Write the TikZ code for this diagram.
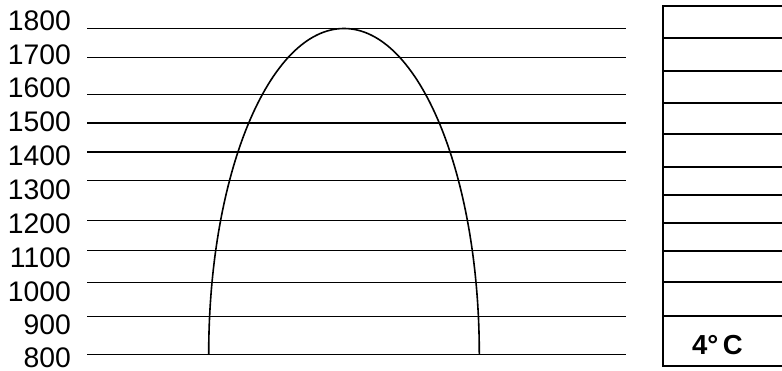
\documentclass[tikz,border=0pt]{standalone}
\usepackage{fontspec}
\setmainfont{Liberation Sans}
\begin{document}
\begin{tikzpicture}[x=1pt,y=-1pt,
  gridline/.style={line width=1.5pt},
  boxline/.style={line width=1.7pt},
  curveline/.style={line width=1.6pt},
  lbl/.style={anchor=east,inner sep=0pt,font=\fontsize{28.3}{30}\selectfont}]
\useasboundingbox (0,0) rectangle (782,371);
\clip (0,0) rectangle (782,371);
% horizontal lines
\foreach \y in {28.7,57.3,94.3,123,152,180.7,220.7,250.7,282.3,316.7,354.3}
  \draw[gridline] (87,\y) -- (626,\y);
% labels
\foreach \t/\y [count=\i] in {1800/21,1700/54.5,1600/88,1500/121.7,1400/156.2,1300/190,1200/223.5,1100/258,1000/291.7,900/325,800/357.5}
  \node[lbl] (l\i) at (71,\y) {\t};
% half ellipse
\draw[curveline] (208.7,354.3) arc[start angle=180,end angle=360,x radius=135.3,y radius=325.8];
% right box
\draw[boxline] (800,6) -- (662.7,6) -- (662.7,366) -- (800,366);
\foreach \y in {38.3,70.7,102.7,134,166.7,194.7,222.7,250.7,282.3,316.2}
  \draw[boxline] (662.7,\y) -- (800,\y);
\node[inner sep=0pt,font=\fontsize{27.5}{30}\selectfont\bfseries] (temp) at (717.4,345) {4°\,C};
\end{tikzpicture}
\end{document}
